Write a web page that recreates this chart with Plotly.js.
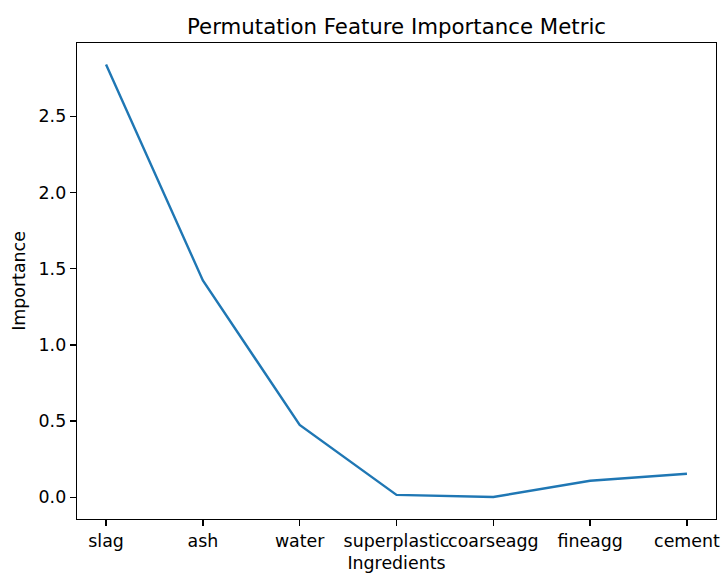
<!DOCTYPE html>
<html>
<head>
<meta charset="utf-8">
<script src="https://cdn.plot.ly/plotly-3.0.1.min.js"></script>
<style>html,body{margin:0;padding:0;background:#fff;}#chart{width:721px;height:576px;}</style>
</head>
<body>
<div id="chart"></div>
<script>
const ingredients = ["slag", "ash", "water", "superplastic", "coarseagg", "fineagg", "cement"];
const importance = [2.839, 1.423, 0.475, 0.016, 0.002, 0.109, 0.155];
const yTickVals = [0, 0.5, 1.0, 1.5, 2.0, 2.5];
const yTickText = ["0.0", "0.5", "1.0", "1.5", "2.0", "2.5"];

const font = {family: "DejaVu Sans", size: 17.4, color: "#000"};

Plotly.newPlot("chart", [{
  x: ingredients,
  y: importance,
  type: "scatter",
  mode: "lines",
  line: {color: "#1f77b4", width: 2.4},
  hoverinfo: "skip"
}], {
  width: 721,
  height: 576,
  margin: {l: 77, r: 5, t: 43, b: 57},
  paper_bgcolor: "#fff",
  plot_bgcolor: "#fff",
  font: font,
  showlegend: false,
  title: {
    text: "Permutation Feature Importance Metric",
    font: {family: "DejaVu Sans", size: 21.3, color: "#000"},
    x: 0.5, xref: "paper", xanchor: "center",
    y: 1, yref: "paper", yanchor: "bottom",
    pad: {b: 9}
  },
  xaxis: {
    type: "category",
    range: [-0.3, 6.3],
    showgrid: false, zeroline: false,
    showline: true, mirror: true, linecolor: "#000", linewidth: 1.3,
    ticks: "outside", ticklen: 6, tickwidth: 1.3, tickcolor: "#000",
    tickangle: 0,
    tickfont: font,
    title: {text: "Ingredients", font: font, standoff: 6},
    automargin: false
  },
  yaxis: {
    range: [-0.142, 2.98],
    tickvals: yTickVals,
    ticktext: yTickText,
    showgrid: false, zeroline: false,
    showline: true, mirror: true, linecolor: "#000", linewidth: 1.3,
    ticks: "outside", ticklen: 6, tickwidth: 1.3, tickcolor: "#000",
    tickfont: font,
    title: {text: "Importance", font: font, standoff: 8},
    automargin: false
  }
}, {displayModeBar: false, staticPlot: true});
</script>
</body>
</html>
